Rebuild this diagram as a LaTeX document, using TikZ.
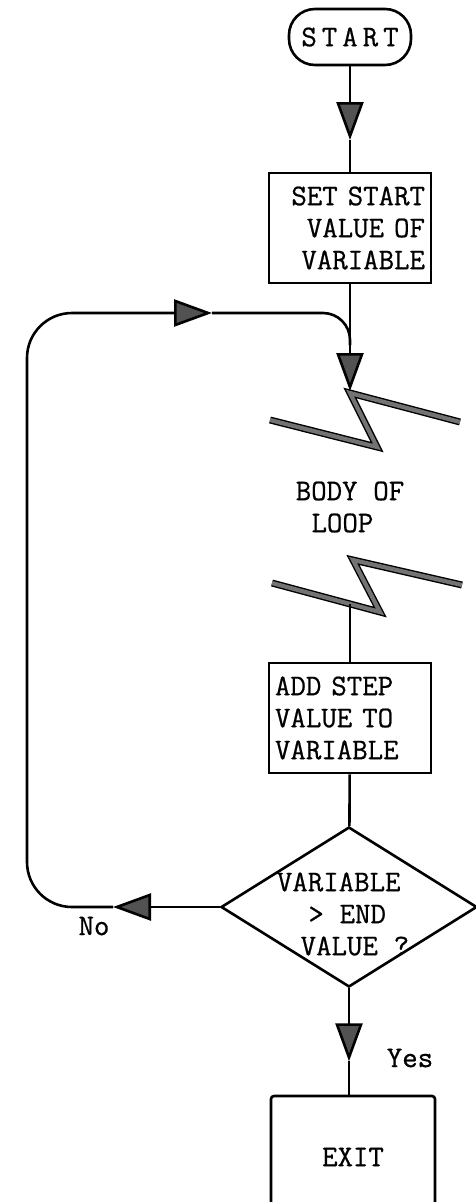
\documentclass[tikz,border=0pt]{standalone}
\usepackage{fontspec}
\usetikzlibrary{arrows.meta,positioning,shapes.geometric}
\newfontfamily\chartfont{Latin Modern Mono}[FakeBold=0.7]
\newcommand\chartsize{\fontsize{30}{32}\selectfont\fontdimen2\font=0.525em\fontdimen3\font=0pt\fontdimen4\font=0pt}

\begin{document}
\begin{tikzpicture}[
  x=1pt, y=-1pt,
  every node/.style={font=\chartfont\chartsize},
  box/.style={draw,line width=2.6pt,minimum width=162pt,minimum height=110pt,inner sep=6pt,text width=150pt},
  terminal/.style={draw,line width=2.6pt,rounded corners=26pt,minimum width=122pt,minimum height=56pt,inner sep=0pt},
  decision/.style={draw,diamond,line width=2.6pt,minimum width=256pt,minimum height=160pt,inner sep=0pt},
  tag/.style={inner sep=0pt},
  line/.style={draw,line width=2.6pt},
  flow/.style={line,-{Triangle[length=38pt,width=27pt,fill=black!68]}},
  breakline/.style={draw=black,line width=1.4pt,double=black!55,double distance=4.2pt}
]
  \useasboundingbox (0,0) rectangle (475,1202);

  \node[terminal] (start) at (350,37) {S\,T\,A\,R\,T};
  \node[box,align=right] (set) at (350,228) {SET START\\VALUE OF\\VARIABLE};
  \node[tag,align=left] (body) at (350,507) {BODY OF\\\hspace*{0.525em}LOOP};
  \node[box,align=left] (add) at (350,718) {ADD STEP\\VALUE TO\\VARIABLE};
  \node[decision] (cond) at (349,907) {};
  \node[tag,align=left] (condtext) at (343,914) {VARIABLE\\\hspace*{1.05em}> END\\\hspace*{0.79em}VALUE ?};
  \node[box,minimum width=164pt,minimum height=122pt,rounded corners=3pt,align=center] (exit) at (353,1157) {EXIT};
  \node[tag] (nolabel) at (94,926) {No};
  \node[tag] (yeslabel) at (410,1058) {Yes};

  % break marks round the loop body
  \coordinate (zz1top) at (350,393);
  \draw[breakline] (270,420) -- (377,447) -- (zz1top) -- (460,422);
  \coordinate (zz2low) at (350,604);
  \draw[breakline] (272,583) -- (380,612) -- (353,560) -- (462,585);

  \coordinate (tip1) at (350,140);
  \coordinate (in1) at (350,391);
  \coordinate (merge) at (350,345);
  \draw[flow] (start) -- (tip1);
  \draw[line] (tip1) -- (set);
  \draw[flow] (set) -- (in1);
  \draw[line] (zz2low) -- (add);
  \draw[line] (add) -- (cond);

  % yes branch
  \path (cond.south) ++(0,73) coordinate (tipyes);
  \draw[flow] (cond.south) -- (tipyes);
  \draw[line] (tipyes) -- (tipyes |- exit.north);

  % no branch back to the top
  \coordinate (tipno) at (113,907);
  \coordinate (loopbl) at (27,907);
  \coordinate (looptl) at (27,313);
  \coordinate (tiploop) at (212,313);
  \coordinate (looptr) at (350,313);
  \draw[flow] (cond.west) -- (tipno);
  \draw[flow,rounded corners=45pt] (tipno) -- (loopbl) -- (looptl) -- (tiploop);
  \draw[line,rounded corners=27pt] (tiploop) -- (looptr) -- (merge);
\end{tikzpicture}
\end{document}
